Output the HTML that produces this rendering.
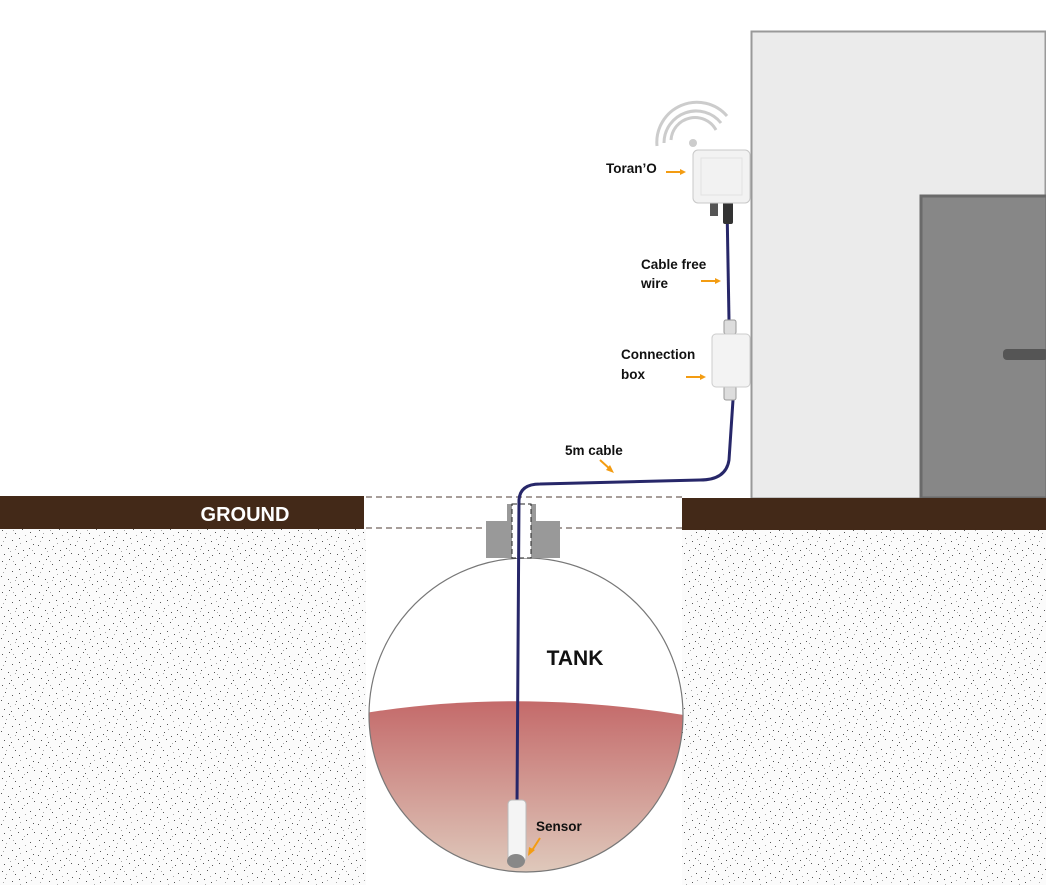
<!DOCTYPE html>
<html><head><meta charset="utf-8"><style>
html,body{margin:0;padding:0;background:#fff;}
svg{display:block;font-family:"Liberation Sans",sans-serif;}
</style></head><body>
<svg width="1046" height="885" viewBox="0 0 1046 885" xmlns="http://www.w3.org/2000/svg">
<defs>
<pattern id="dots" width="37" height="31" patternUnits="userSpaceOnUse">
<rect width="37" height="31" fill="#fbfbfb"/>
<g fill="#555">
<rect x="2" y="3" width="1" height="1"/><rect x="9" y="1" width="1" height="1"/><rect x="15" y="6" width="1" height="1"/><rect x="22" y="2" width="1" height="1"/><rect x="30" y="5" width="1" height="1"/><rect x="35" y="9" width="1" height="1"/>
<rect x="5" y="10" width="1" height="1"/><rect x="12" y="13" width="1" height="1"/><rect x="19" y="11" width="1" height="1"/><rect x="26" y="14" width="1" height="1"/><rect x="33" y="17" width="1" height="1"/>
<rect x="1" y="18" width="1" height="1"/><rect x="8" y="21" width="1" height="1"/><rect x="16" y="19" width="1" height="1"/><rect x="23" y="23" width="1" height="1"/><rect x="29" y="21" width="1" height="1"/>
<rect x="4" y="27" width="1" height="1"/><rect x="11" y="29" width="1" height="1"/><rect x="18" y="26" width="1" height="1"/><rect x="27" y="28" width="1" height="1"/><rect x="34" y="26" width="1" height="1"/>
</g>
<g fill="#aaa">
<rect x="6" y="6" width="1" height="1"/><rect x="13" y="3" width="1" height="1"/><rect x="25" y="8" width="1" height="1"/><rect x="31" y="12" width="1" height="1"/><rect x="3" y="14" width="1" height="1"/><rect x="20" y="16" width="1" height="1"/><rect x="10" y="24" width="1" height="1"/><rect x="24" y="30" width="1" height="1"/><rect x="32" y="23" width="1" height="1"/><rect x="15" y="22" width="1" height="1"/>
</g>
</pattern>
<linearGradient id="liq" x1="0" y1="0" x2="0" y2="1">
<stop offset="0" stop-color="#c46a6a"/><stop offset="1" stop-color="#e0cdbf"/>
</linearGradient>
<clipPath id="tc"><circle cx="526" cy="715" r="157"/></clipPath>
</defs>
<rect x="0" y="529" width="366" height="356" fill="url(#dots)"/>
<rect x="682" y="530" width="364" height="355" fill="url(#dots)"/>
<rect x="751.5" y="31.5" width="294" height="467" fill="#ebebeb" stroke="#999" stroke-width="2"/>
<rect x="921" y="196" width="126" height="302" fill="#878787" stroke="#6a6a6a" stroke-width="3"/>
<rect x="1003" y="349" width="45" height="11" rx="4" fill="#555"/>
<rect x="0" y="496" width="364" height="33" fill="#432918"/>
<rect x="682" y="498" width="364" height="32" fill="#432918"/>
<text x="245" y="521" text-anchor="middle" font-size="20" font-weight="bold" fill="#fff">GROUND</text>
<line x1="366" y1="497" x2="682" y2="497" stroke="#8a7f78" stroke-width="1.5" stroke-dasharray="6,4"/>
<line x1="366" y1="528" x2="682" y2="528" stroke="#8a7f78" stroke-width="1.5" stroke-dasharray="6,4"/>
<circle cx="526" cy="715" r="157" fill="#fff"/>
<path d="M365 713 Q520 688 690 716 L690 880 L365 880 Z" fill="url(#liq)" clip-path="url(#tc)"/>
<circle cx="526" cy="715" r="157" fill="none" stroke="#777" stroke-width="1.2"/>
<text x="575" y="665" text-anchor="middle" font-size="21" font-weight="bold" fill="#111">TANK</text>
<rect x="486" y="521" width="74" height="37" fill="#999"/>
<rect x="507" y="504" width="29" height="17" fill="#999"/>
<rect x="512" y="504" width="19" height="54" fill="#fff" stroke="#222" stroke-dasharray="5,3"/>
<path d="M517 805 L519 500 Q520 484 540 484 L700 480 Q726 480 729 460 L733 400" fill="none" stroke="#272769" stroke-width="3"/>
<line x1="729" y1="320" x2="727" y2="205" stroke="#272769" stroke-width="3"/>
<rect x="508" y="800" width="18" height="62" rx="4" fill="#f4f4f4" stroke="#bbb"/>
<ellipse cx="516" cy="861" rx="9" ry="7" fill="#888"/>
<text x="536" y="831" font-size="13.5" font-weight="bold" fill="#111">Sensor</text>
<line x1="540" y1="838" x2="531" y2="852" stroke="#f39c12" stroke-width="2"/>
<polygon points="528,856 529,847 535,850" fill="#f39c12"/>
<rect x="724" y="320" width="12" height="14" rx="2" fill="#ddd" stroke="#999"/>
<rect x="724" y="386" width="12" height="14" rx="2" fill="#ddd" stroke="#999"/>
<rect x="712" y="334" width="38" height="53" rx="4" fill="#f3f3f3" stroke="#ccc"/>
<path d="M671 140 A24 24 0 0 1 716 130 M664 143 A32 32 0 0 1 721 123 M657 146 A40 40 0 0 1 727 116" fill="none" stroke="#ccc" stroke-width="3"/>
<circle cx="693" cy="143" r="4" fill="#ccc"/>
<rect x="710" y="202" width="8" height="14" fill="#555"/>
<rect x="723" y="202" width="10" height="22" rx="2" fill="#333"/>
<rect x="693" y="150" width="57" height="53" rx="5" fill="#f2f2f2" stroke="#c8c8c8"/>
<rect x="701" y="158" width="41" height="37" fill="none" stroke="#e2e2e2"/>
<g font-size="13.5" font-weight="bold" fill="#111">
<text x="606" y="173">Toran’O</text>
<text x="641" y="269">Cable free</text>
<text x="641" y="288">wire</text>
<text x="621" y="359">Connection</text>
<text x="621" y="379">box</text>
<text x="565" y="455">5m cable</text>
</g>
<g stroke="#f39c12" stroke-width="2" fill="#f39c12">
<line x1="666" y1="172" x2="682" y2="172"/><polygon points="686,172 680,169 680,175" stroke="none"/>
<line x1="701" y1="281" x2="717" y2="281"/><polygon points="721,281 715,278 715,284" stroke="none"/>
<line x1="686" y1="377" x2="702" y2="377"/><polygon points="706,377 700,374 700,380" stroke="none"/>
<line x1="600" y1="460" x2="611" y2="470"/><polygon points="614,473 606,470 610,465" stroke="none"/>
</g>
</svg>
</body></html>
